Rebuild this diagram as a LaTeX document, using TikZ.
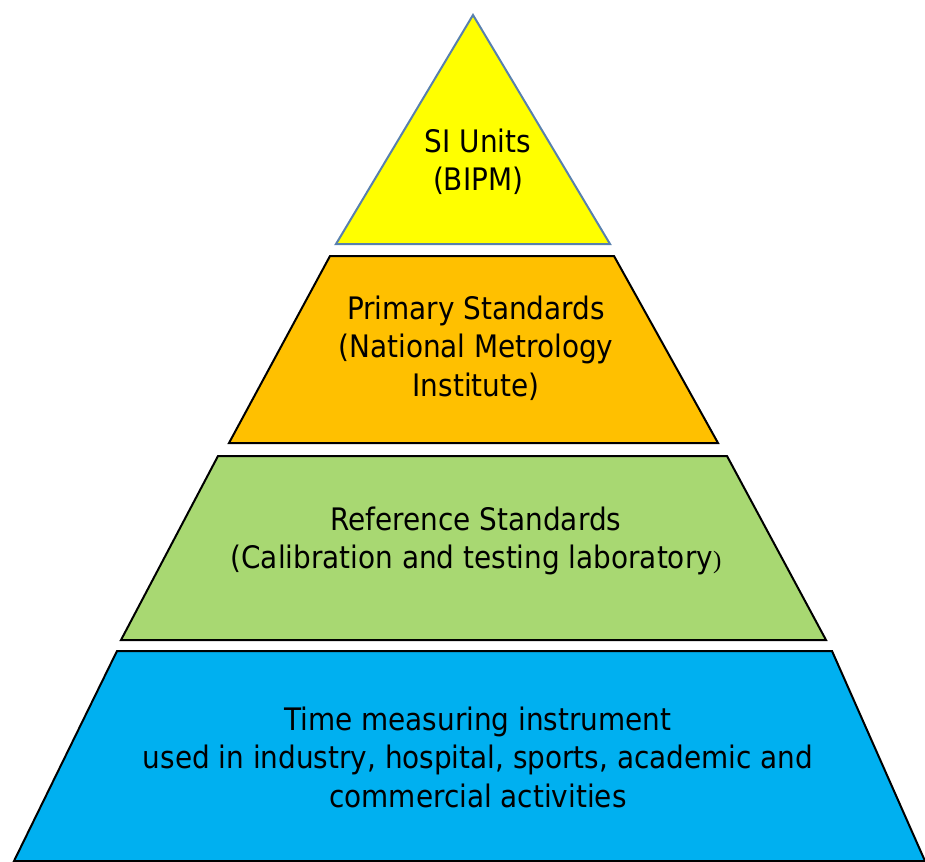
\documentclass[tikz,border=0pt]{standalone}
\usepackage{fontspec}
\setmainfont{DejaVu Sans Condensed}
\newfontfamily\parenfont{Liberation Serif}
\usepackage{tikz}
\definecolor{tipyellow}{HTML}{FFFF00}
\definecolor{tipedge}{HTML}{5880AE}
\definecolor{primorange}{HTML}{FFC000}
\definecolor{refgreen}{HTML}{A8D872}
\definecolor{usecyan}{HTML}{00B0F0}

\begin{document}
\begin{tikzpicture}[
  x=1pt,y=-1pt,
  font=\fontsize{31}{38.5}\selectfont,
  layer/.style={draw=black,line width=2pt,line join=miter},
  lbl/.style={align=center,text=black}]
\useasboundingbox (0,0) rectangle (925,861);
% top: SI units
\draw[layer,draw=tipedge,fill=tipyellow] (473,15) -- (610,244) -- (336,244) -- cycle;
\node[lbl] (si) at (478,162) {SI Units\\(BIPM)};
% primary standards
\draw[layer,fill=primorange] (330,256) -- (614,256) -- (718,443) -- (229,443) -- cycle;
\node[lbl] (prim) at (476,348) {Primary Standards\\(National Metrology\\Institute)};
% reference standards
\draw[layer,fill=refgreen] (218,456) -- (727,456) -- (826,640) -- (121,640) -- cycle;
\node[lbl] (ref) at (476,541) {Reference Standards\\(Calibration and testing laboratory{\parenfont\fontsize{25}{38}\selectfont)}};
% working instruments
\draw[layer,fill=usecyan] (117,651) -- (832,651) -- (925,861) -- (14,861) -- cycle;
\node[lbl] (inst) at (478,757) {Time measuring instrument\\used in industry, hospital, sports, academic and\\commercial activities};
\end{tikzpicture}
\end{document}
